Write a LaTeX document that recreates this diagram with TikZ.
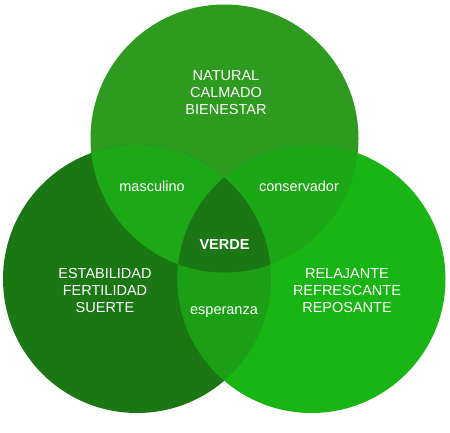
\documentclass[tikz,border=0pt]{standalone}
\usepackage{fontspec}
\setmainfont{Liberation Sans}
\usepackage{xcolor}
\usetikzlibrary{positioning}

\definecolor{topgreen}{HTML}{2E9A1F}
\definecolor{leftgreen}{HTML}{1B7714}
\definecolor{rightgreen}{HTML}{19B515}
\definecolor{tlgreen}{HTML}{1DA817}
\definecolor{trgreen}{HTML}{1CA716}
\definecolor{lrgreen}{HTML}{1B9F15}
\definecolor{midgreen}{HTML}{1B7615}

\begin{document}
\begin{tikzpicture}[x=1pt,y=-1pt,
            word/.style={text=white, font=\fontsize{14.5}{17}\selectfont, align=center, inner sep=0pt},
            core/.style={word, font=\fontsize{14.5}{17}\selectfont\bfseries}]
            \useasboundingbox (0,0) rectangle (450,432);

            % Circle centres
            \coordinate (top) at (224.5,138.5);
            \coordinate (left) at (137,279);
            \coordinate (right) at (311.5,279);

            % Single circles
            \fill[topgreen] (top) circle[radius=134pt];
            \fill[leftgreen] (left) circle[radius=134pt];
            \fill[rightgreen] (right) circle[radius=134pt];

            % Overlaps
            \begin{scope}
                \clip (top) circle[radius=134pt];
                \fill[tlgreen] (left) circle[radius=134pt];
                \fill[trgreen] (right) circle[radius=134pt];
            \end{scope}
            \begin{scope}
                \clip (left) circle[radius=134pt];
                \fill[lrgreen] (right) circle[radius=134pt];
            \end{scope}
            \begin{scope}
                \clip (top) circle[radius=134pt];
                \clip (left) circle[radius=134pt];
                \fill[midgreen] (right) circle[radius=134pt];
            \end{scope}

            % Labels
            \node[word] (natural) at (226,93) {NATURAL\\CALMADO\\BIENESTAR};
            \node[word] (estab) at (105,291) {ESTABILIDAD\\FERTILIDAD\\SUERTE};
            \node[word] (relaj) at (347,291) {RELAJANTE\\REFRESCANTE\\REPOSANTE};
            \node[word] (masc) at (152,186) {masculino};
            \node[word] (cons) at (299,186) {conservador};
            \node[word] (esper) at (224,312) {esperanza};
            \node[core] (verde) at (224.5,245) {VERDE};
        \end{tikzpicture}
\end{document}
